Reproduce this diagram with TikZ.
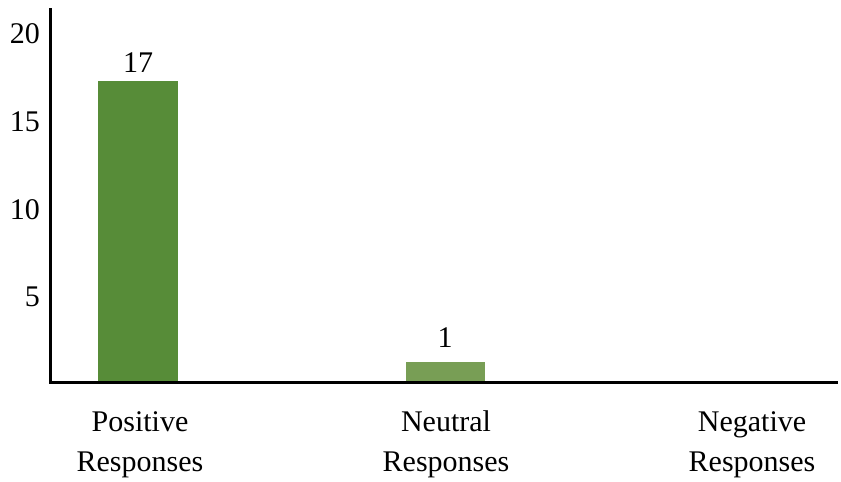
\documentclass[tikz,border=0pt]{standalone}
\usepackage{fontspec}
\setmainfont{Liberation Serif}
\definecolor{posgreen}{RGB}{87,140,56}
\definecolor{neugreen}{RGB}{120,158,85}
\begin{document}
\begin{tikzpicture}[x=1pt,y=-1pt,
  axisline/.style={line width=3pt,black},
  lbl/.style={font=\fontsize{30}{38}\selectfont,inner sep=0pt},
  catlbl/.style={font=\fontsize{30}{40}\selectfont,align=center,inner sep=0pt}]
\useasboundingbox (0,0) rectangle (841,482);
% bars
\fill[posgreen] (98,81) rectangle (178,382);
\fill[neugreen] (406,362) rectangle (485,382);
% axes
\coordinate (ytop) at (50,8);
\coordinate (orig) at (50,382);
\coordinate (xend) at (838,382);
\draw[axisline] (ytop) -- (orig) -- (xend);
% tick labels
\node[lbl,anchor=east] (t20) at (40,34) {20};
\node[lbl,anchor=east] (t15) at (40,122) {15};
\node[lbl,anchor=east] (t10) at (40,210) {10};
\node[lbl,anchor=east] (t5) at (40,297) {5};
% value labels
\node[lbl] (v17) at (138,63) {17};
\node[lbl] (v1) at (445,338) {1};
% category labels
\node[catlbl] (cpos) at (140,443) {\strut Positive\\\strut Responses};
\node[catlbl] (cneu) at (446,443) {\strut Neutral\\\strut Responses};
\node[catlbl] (cneg) at (752,443) {\strut Negative\\\strut Responses};
\end{tikzpicture}
\end{document}
